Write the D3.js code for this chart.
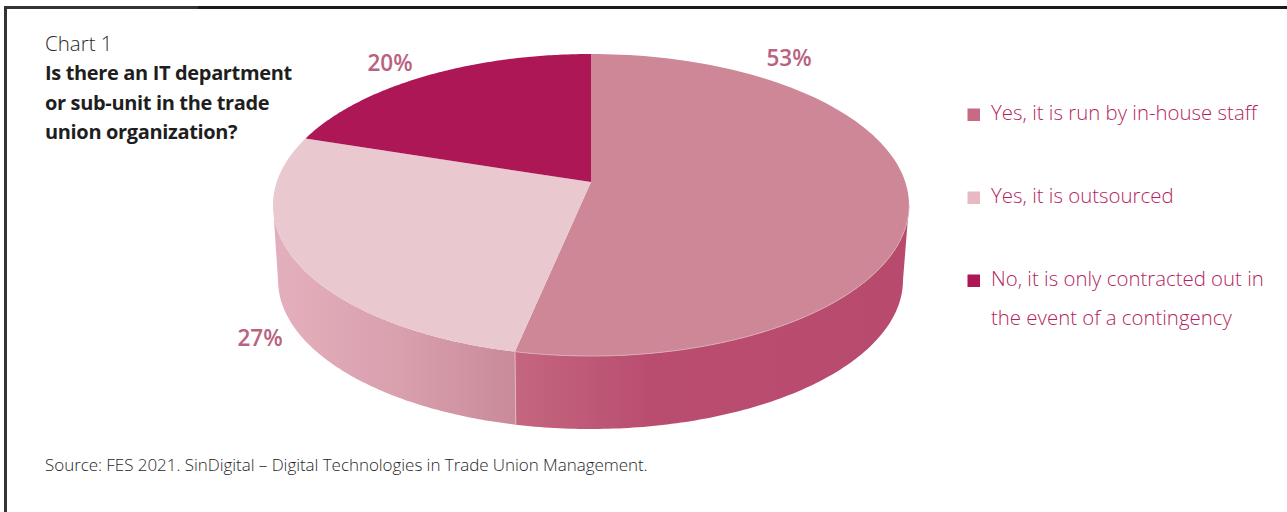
<!DOCTYPE html>
<html><head><meta charset="utf-8">
<script src="https://cdn.jsdelivr.net/npm/d3@7"></script>
<style>html,body{margin:0;padding:0;background:#fff}svg{display:block}</style>
</head><body><svg id="c" width="1287" height="512"></svg>
<script>
const categories = ["Yes, it is run by in-house staff", "Yes, it is outsourced", "No, it is only contracted out in|the event of a contingency"];
const values = [53.3, 26.7, 20];
const labels = ["53%", "27%", "20%"];
const topColors = ["#cd8797", "#e9c9cf", "#ad1756"];
const swatchColors = ["#c76b85", "#e6b9c3", "#ad1756"];
const wallStops = [
  [["#c4667f",0],["#b94d70",0.35],["#b84a6e",1]],
  [["#e4afbc",0],["#d9a0ae",0.5],["#c98a99",1]]
];
const title = ["Is there an IT department", "or sub-unit in the trade", "union organization?"];
const source = "Source: FES 2021. SinDigital – Digital Technologies in Trade Union Management.";

const svg = d3.select("#c");
const font = "'Open Sans','Noto Sans',sans-serif";
const defs = svg.append("defs");

svg.append("path").attr("d","M5.5 512V7.5H198").attr("fill","none").attr("stroke","#333").attr("stroke-width",3);
svg.append("path").attr("d","M198 7.5H1287").attr("fill","none").attr("stroke","#1a1a1a").attr("stroke-width",3);

const x = d3.scaleLinear().domain([-1,1]).range([273,909]);
const y = d3.scaleLinear().domain([-1,1]).range([54,356]);
const xb = d3.scaleLinear().domain([-1,1]).range([278,903]);
const yb = d3.scaleLinear().domain([-1,1]).range([131,429]);
const k = -0.152;
const proj = a => {
  const sx = Math.sin(a), sy = -Math.cos(a), den = 1 + k*sy;
  return [sx*Math.sqrt(1-k*k)/den, (sy+k)/den];
};
const pie = d3.pie().sort(null).startAngle(0).endAngle(2*Math.PI)(values);
const arcPts = (a0,a1) => d3.range(0,121).map(i => proj(a0+(a1-a0)*i/120));
const line = d3.line();
const limit = Math.acos(k);

// side walls, drawn from the visible front part of each slice
const visible = [[limit, pie[0].endAngle],[pie[1].startAngle, 2*Math.PI-limit]];
visible.forEach((v,i)=>{
  const pts = arcPts(v[0],v[1]);
  const upper = pts.map(p=>[x(p[0]),y(p[1])]);
  const lower = pts.map(p=>[xb(p[0]),yb(p[1])]).reverse();
  const xs = lower.map(p=>p[0]);
  const g = defs.append("linearGradient").attr("id","w"+i).attr("gradientUnits","userSpaceOnUse")
    .attr("x1", d3.min(xs)).attr("x2", d3.max(xs)).attr("y1",0).attr("y2",0);
  wallStops[i].forEach(s=>g.append("stop").attr("offset",s[1]).attr("stop-color",s[0]));
  svg.append("path").attr("d",line(upper.concat(lower))+"Z").attr("fill",`url(#w${i})`);
});
// seam between the two walls
const seam = proj(pie[0].endAngle);
svg.append("line").attr("x1",x(seam[0])).attr("y1",y(seam[1])).attr("x2",xb(seam[0])).attr("y2",yb(seam[1]))
  .attr("stroke","#e3b6c2").attr("stroke-width",1);

// top faces
const apex = [x(0), y(k)];
pie.forEach((d,i)=>{
  const pts = arcPts(d.startAngle,d.endAngle).map(p=>[x(p[0]),y(p[1])]);
  svg.append("path").attr("d",line([apex].concat(pts))+"Z").attr("fill",topColors[i]);
});
// pale rim along the front edge of the largest slice
svg.append("path").attr("d",line(arcPts(limit,pie[0].endAngle).map(p=>[x(p[0]),y(p[1])])))
  .attr("fill","none").attr("stroke","#dca9b7").attr("stroke-width",1);

// value labels
const lx = [789,260,390], ly=[66,346,71];
labels.forEach((t,i)=>svg.append("text").attr("x",lx[i]).attr("y",ly[i]).attr("text-anchor","middle")
  .attr("font-family",font).attr("font-size",22.5).attr("font-weight",600).attr("fill","#b9637f").text(t));

// heading
svg.append("text").attr("x",45).attr("y",51).attr("font-family",font).attr("font-size",20.5).attr("font-weight",300).attr("fill","#2a2a2a").text("Chart 1");
title.forEach((t,i)=>svg.append("text").attr("x",45).attr("y",80+i*29.7).attr("font-family",font).attr("font-size",20).attr("font-weight",700).attr("fill","#1e1e1e").attr("letter-spacing",-0.35).text(t));

// legend
const legY=[113,196,279];
categories.forEach((c,i)=>{
  svg.append("rect").attr("x",967.5).attr("y",legY[i]-4.5).attr("width",12.5).attr("height",12.5).attr("fill",swatchColors[i]);
  c.split("|").forEach((t,j)=>svg.append("text").attr("x",991).attr("y",legY[i]+7+j*39)
    .attr("font-family",font).attr("font-size",20.4).attr("font-weight",300).attr("fill","#b51f5f").text(t));
});

svg.append("text").attr("x",45).attr("y",471).attr("font-family",font).attr("font-size",17).attr("font-weight",300).attr("letter-spacing",-0.05).attr("fill","#1f1f1f").text(source);
</script></body></html>
